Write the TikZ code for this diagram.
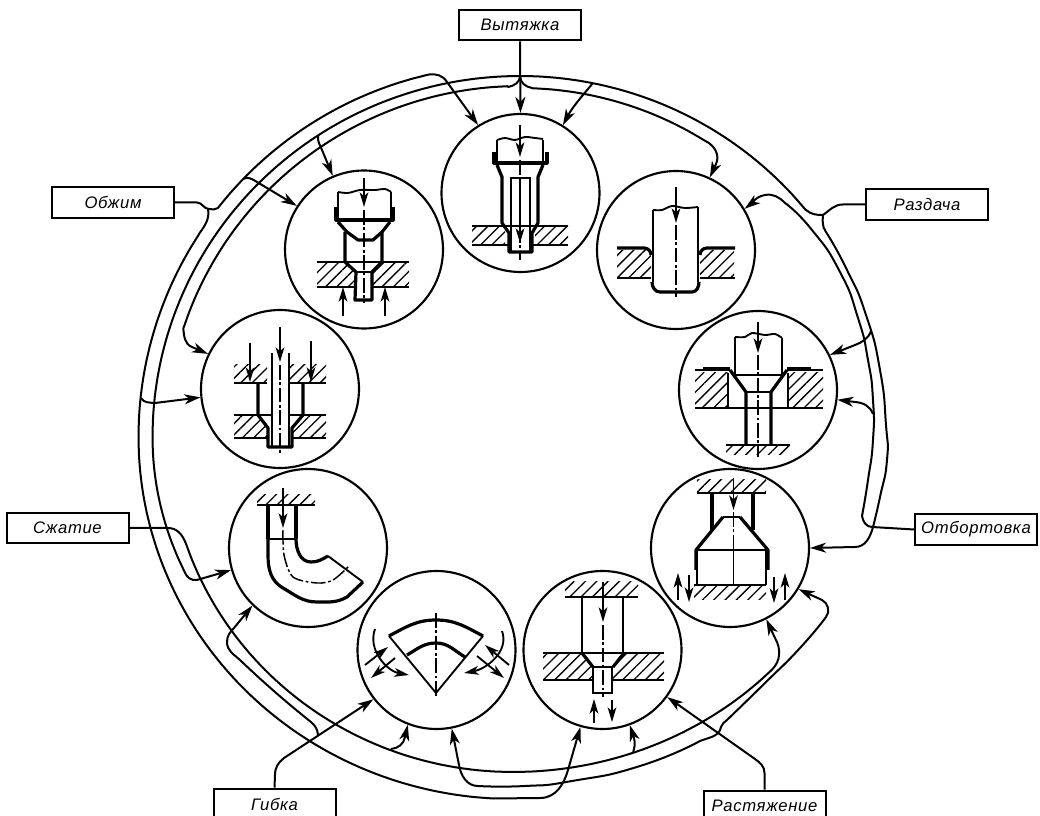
\documentclass[tikz,border=0pt]{standalone}
\usepackage{fontspec}
\setmainfont{Liberation Sans}[LetterSpace=4]
\usetikzlibrary{arrows.meta,patterns.meta}

\begin{document}
\begin{tikzpicture}[
x=0.75pt,y=-0.75pt,
>={Stealth[length=12pt,width=7.5pt,inset=3.5pt]},
labelbox/.style={
    draw,
    line width=1.5pt,
    minimum width=91.5pt,
    minimum height=23pt,
    inner sep=0pt,
    font=\itshape\fontsize{12.5}{14}\selectfont
},
stage/.style={
    draw,
    circle,
    line width=1.6pt,
    minimum size=118.5pt,
    inner sep=0pt
},
wire/.style={line width=1.5pt,line join=round},
part/.style={line width=1.4pt},
heavy/.style={line width=2.4pt,line join=round},
axis/.style={line width=1.1pt,dash pattern=on 11pt off 2pt on 2pt off 2pt},
push/.style={line width=1.4pt,->,>={Stealth[length=11pt,width=6.5pt,inset=3pt]}},
hatched/.style={pattern={Lines[angle=45,distance=6pt,line width=1pt]}}
]

\useasboundingbox (0,0) rectangle (1040,816);
\clip (0,0) rectangle (1040,816);

\node (vytyazhka) [labelbox] at (520,25) {Вытяжка};

\node (obzhim) [labelbox] at (113,202.5) {Обжим};

\node (razdacha) [labelbox] at (927,204.5) {Раздача};

\node (szhatie) [labelbox] at (67.5,528) {Сжатие};

\node (otbortovka) [labelbox] at (976,529.5) {Отбортовка};

\node (gibka) [labelbox] at (274.5,804) {Гибка};

\node (rastyazhenie) [labelbox] at (764.5,806) {Растяжение};

\node (ctop) [stage] at (520.5,193) {};

\node (cupleft) [stage] at (364,249.5) {};

\node (cupright) [stage] at (676,250) {};

\node (cleft) [stage] at (280,389) {};

\node (cright) [stage] at (758,390) {};

\node (clowleft) [stage] at (308,548) {};

\node (clowright) [stage] at (730,548) {};

\node (cbotleft) [stage] at (436.5,650) {};

\node (cbotright) [stage] at (602.5,650) {};

\draw[wire,->] (vytyazhka.south) -- (ctop.90);

\draw[wire,->] (obzhim.east) -- (197,202.5) to[out=0,in=180] (209,209) to[out=0,in=225] (218,208)
  -- plot[smooth,domain=218:257,samples=14] ({513+374.5*cos(\x)},{437+372*sin(\x)})
  to[out=8,in=122] (447,82) -- (ctop.122);

\draw[wire,->] (243,179) to[out=30,in=148] (257,182) -- (cupleft.147);

\draw[wire,->] (208,209) to[out=-80,in=55] (199,234)
  -- plot[smooth,domain=213:180,samples=12] ({513+374.5*cos(\x)},{437+372*sin(\x)})
  -- plot[smooth,domain=180:93,samples=30] ({513+374.5*cos(\x)},{437+362*sin(\x)})
  -- (540,798) to[out=0,in=-106] (568,770) -- (cbotright.-106);

\draw[wire,->] (141,398) to[out=-60,in=175] (155,403) -- (cleft.186);

\draw[wire,->] (razdacha.west) -- (843,204.5) to[out=180,in=35] (823,215) to[out=180,in=-40] (806,210)
  -- plot[smooth,domain=321:180,samples=45] ({520+367.5*cos(\x)},{437+361*sin(\x)})
  -- plot[smooth,domain=180:156,samples=9] ({520+367.5*cos(\x)},{437+330*sin(\x)})
  to[out=-70,in=190] (197,580) -- (clowleft.196);

\draw[wire,->] (318,136) to[out=-95,in=112] (322,150) -- (cupleft.113);

\draw[wire,->] (593,83) to[out=-130,in=62] (ctop.58);

\draw[wire,->] (520,76) to[out=-90,in=10] (508,87)
  -- plot[smooth,domain=268:198,samples=24] ({520+354*cos(\x)},{437+351*sin(\x)})
  to[out=-85,in=158] (192,347) -- (cleft.154);

\draw[wire,->] (520,76) to[out=-90,in=170] (532,88)
  -- plot[smooth,domain=272:302,samples=10] ({520+350*cos(\x)},{437+349*sin(\x)})
  to[out=-25,in=65] (716,164) -- (cupright.65);

\draw[wire,->] (872,527) to[out=180,in=-80] (862,516)
  -- plot[smooth,tension=1] coordinates {(862,516) (868,480) (873,440) (873,400) (868,360) (858,318) (840,272) (812,230) (785,203)}
  to[out=135,in=10] (765,195) to[out=190,in=37] (cupright.31);

\draw[wire,->] (823,215) to[out=-95,in=125] (826,232)
  -- plot[smooth,tension=1] coordinates {(826,232) (847,270) (866,315) (880,370) (886,425) (887,460) (880,497) (873,527)}
  to[out=-105,in=0] (855,547) -- (clowright.0);

\draw[wire,->] (871,331) to[out=-110,in=22] (855,345) -- (cright.26);

\draw[wire,->] (873,414) to[out=110,in=-5] (855,402) -- (cright.-7);

\draw[wire] (otbortovka.west) -- (872,527);

\draw[wire,->] (szhatie.east) -- (168,528) to[out=0,in=112] (185.7,543)
  -- plot[smooth,domain=161.6:90,samples=24] ({513+345*cos(\x)},{437+335*sin(\x)})
  -- plot[smooth,domain=90:44,samples=16] ({513+360*cos(\x)},{437+335*sin(\x)})
  to[out=45,in=-60] (775,638) -- (clowright.-63);

\draw[wire,->] (391,749) to[out=5,in=-100] (405,737) -- (cbotleft.-111);

\draw[wire,->] (633,753) to[out=75,in=-75] (634,738) -- (cbotright.-70);

\draw[wire,->] (gibka.north) -- (275,775) to[out=90,in=218] (284,758) -- (cbotleft.218);

\draw[wire,->] (318,735) to[out=95,in=-40] (311,722)
  -- plot[smooth,tension=1] coordinates {(311,722) (275,692) (240,660)}
  to[out=138,in=-90] (227,642) to[out=90,in=226] (234,628) -- (clowleft.226);

\draw[wire,->] (rastyazhenie.north) -- (764.5,773) to[out=90,in=-36] (755,759) -- (cbotright.-36);

\draw[wire,<->] (cbotleft.-79) -- (459,765) to[out=-80,in=180] (478,786)
  -- plot[smooth,tension=1] coordinates {(478,786) (525,786) (572,781) (640,766) (700,741)}
  to[out=22,in=-100] (721,727) to[out=80,in=225] (727,720)
  -- plot[smooth,tension=1] coordinates {(727,720) (765,683) (800,648) (826,617)}
  to[out=50,in=-25] (822,600) -- (clowright.-31);

\path[hatched] (472,226) rectangle (505,245);
\path[hatched] (535,226) rectangle (568,245);
\draw[part] (472,226) -- (568,226);
\draw[part] (472,245) -- (509,245);
\draw[part] (532,245) -- (568,245);
\draw[part] plot[smooth] coordinates {(497,140) (505,138) (515,140) (525,137) (535,138) (543,139)};
\draw[part] (497,140) -- (497,163);
\draw[part] (543,140) -- (543,163);
\draw[heavy] (494,152) -- (494,163) -- (547,163) -- (547,152);
\draw[heavy] (497,165) -- (502,177) -- (502,223) -- (509,233) -- (509,252) -- (532,252) -- (532,233) -- (538,223) -- (538,177) -- (543,165);
\draw[part] (511,252) -- (511,178) -- (530,178) -- (530,252);
\draw[axis] (520,160) -- (520,260);
\draw[push] (520,125) -- (520,157);
\draw[push] (520,178) -- (520,243);

\path[hatched] (317,262) -- (347,262) -- (356,272) -- (355,287) -- (317,287) -- cycle;
\path[hatched] (409,262) -- (380,262) -- (372,272) -- (372,287) -- (409,287) -- cycle;
\draw[part] (317,262) -- (409,262);
\draw[part] (317,287) -- (355,287);
\draw[part] (372,287) -- (409,287);
\draw[part] (356,272) -- (372,272);
\draw[part] plot[smooth] coordinates {(338,192) (348,193) (360,190) (375,190) (385,189) (391,192)};
\draw[part] (338,192) -- (338,220);
\draw[part] (391,192) -- (391,220);
\draw[heavy] (336,207) -- (336,220) -- (393,220) -- (393,207);
\draw[heavy] (338,222) -- (347,232) -- (358,240) -- (373,240) -- (382,232) -- (390,222);
\draw[heavy] (345,232) -- (345,262) -- (356,272) -- (355,300) -- (372,300) -- (372,272) -- (382,262) -- (382,232);
\draw[axis] (364,210) -- (364,303);
\draw[push] (364,178) -- (364,207);
\draw[push] (343,316) -- (343,287);
\draw[push] (385,316) -- (385,287);

\path[hatched] (617,250) -- (647,250) -- (651,256) -- (651,278) -- (617,278) -- cycle;
\path[hatched] (734,250) -- (704,250) -- (700,256) -- (700,278) -- (734,278) -- cycle;
\draw[part] (617,278) -- (651,278);
\draw[part] (700,278) -- (735,278);
\draw[heavy] (617,248) -- (644,248) to[out=0,in=90] (651,255);
\draw[heavy] (735,248) -- (707,248) to[out=180,in=90] (700,255);
\draw[part] plot[smooth] coordinates {(653,210) (662,210) (672,206) (685,208) (698,207)};
\draw[part] (653,210) -- (653,282);
\draw[part] (698,207) -- (698,282);
\draw[heavy] (652,282) to[out=-90,in=180] (660,292) -- (692,292) to[out=0,in=-90] (699,282);
\draw[axis] (676,225) -- (676,297);
\draw[push] (676,187) -- (676,223);

\path[hatched] (695,373) rectangle (728,408);
\path[hatched] (788,373) rectangle (823,408);
\draw[part] (695,370) -- (730,370);
\draw[part] (787,370) -- (823,370);
\draw[heavy] (703,369) -- (730,369);
\draw[heavy] (787,369) -- (811,369);
\draw[part] (728,373) -- (728,408);
\draw[part] (788,373) -- (788,408);
\draw[part] (695,408) -- (823,408);
\draw[part] (726,445) -- (790,445);
\path[hatched] (726,446) rectangle (790,455);
\draw[part] plot[smooth] coordinates {(735,337) (745,337) (752,333) (765,335) (775,334) (782,338)};
\draw[part] (735,337) -- (735,375);
\draw[part] (782,338) -- (782,375);
\draw[part] (733,375) -- (785,375);
\draw[part] (746,392) -- (771,392);
\draw[heavy] (730,370) -- (746,392) -- (746,444);
\draw[heavy] (787,370) -- (771,392) -- (771,444);
\draw[axis] (758,355) -- (758,457);
\draw[push] (758,322) -- (758,353);

\path[hatched] (697,480) rectangle (766,493);
\path[hatched] (694,586) rectangle (766,600);
\draw[part] (697,493) -- (766,493);
\draw[part] (694,585) -- (766,585);
\draw[part] (697,550) -- (697,585);
\draw[part] (766,550) -- (766,585);
\draw[part] (696,550) -- (768,550);
\draw[part] (723,517) -- (740,517);
\draw[heavy] (712,493) -- (712,530);
\draw[heavy] (753,493) -- (753,530);
\draw[heavy] (696,570) -- (696,550) -- (723,517);
\draw[heavy] (768,570) -- (768,550) -- (740,517);
\draw[part] (733.5,550) -- (733.5,585);
\draw[axis] (733.5,512) -- (733.5,550);
\draw[push] (733.5,478) -- (733.5,510);
\draw[push] (678,600) -- (678,573);
\draw[push] (689,575) -- (689,602);
\draw[push] (774,577) -- (774,603);
\draw[push] (785,600) -- (785,573);

\path[hatched] (543,653) -- (582,653) -- (593,667) -- (593,680) -- (543,680) -- cycle;
\path[hatched] (664,653) -- (624,653) -- (613,667) -- (613,680) -- (664,680) -- cycle;
\path[hatched] (565,582) rectangle (638,597);
\draw[part] (565,597) -- (638,597);
\draw[part] (543,653) -- (664,653);
\draw[part] (543,680) -- (593,680);
\draw[part] (613,680) -- (664,680);
\draw[part] (582,597) -- (582,653);
\draw[part] (623,597) -- (623,653);
\draw[heavy] (582,653) -- (593,667);
\draw[heavy] (624,653) -- (613,667);
\draw[part] (593,667) -- (613,667);
\draw[part] (593,667) -- (593,693) -- (612,693) -- (612,667);
\draw[axis] (603,625) -- (603,697);
\draw[push] (603,582) -- (603,622);
\draw[push] (594,723) -- (594,699);
\draw[push] (612,700) -- (612,722);

\draw[heavy] (389,636) to[out=28,in=180] (436,620) to[out=0,in=152] (483,636);
\draw[heavy] (407,655) to[out=30,in=180] (436,643) to[out=0,in=150] (465,657);
\draw[part] (389,636) -- (436,693) -- (483,636);
\draw[axis] (436,613) -- (436,698);
\draw[push] (365,665) -- (388,647);
\draw[push] (395,658) -- (371,678);
\draw[push] (375,629) to[out=-110,in=170] (409,675);
\draw[push] (509,665) -- (485,645);
\draw[push] (477,656) -- (504,678);
\draw[push] (502,631) to[out=-70,in=10] (464,673);

\path[hatched] (257,495) rectangle (315,505);
\draw[part] (257,505) -- (315,505);
\draw[heavy] (268,505) -- (268,539);
\draw[heavy] (296,505) -- (296,539);
\draw[part] (268,539) -- (296,539);
\draw[heavy] (268,539) -- (268,555) to[out=-90,in=150] (283,588) to[out=-30,in=180] (317,602) to[out=0,in=-150] (347,597) -- (363,582);
\draw[heavy] (296,539) to[out=-90,in=180] (311,562) to[out=0,in=-150] (328,556);
\draw[part] (328,556) -- (363,582);
\draw[axis] plot[smooth] coordinates {(283,530) (284,555) (293,577) (317,583) (333,580) (348,567)};
\draw[push] (283,488) -- (283,528);

\path[hatched] (234,365) rectangle (267,383);
\path[hatched] (290,365) rectangle (326,383);
\path[hatched] (234,415) -- (258,415) -- (268,428) -- (268,438) -- (234,438) -- cycle;
\path[hatched] (326,415) -- (301,415) -- (292,428) -- (292,438) -- (326,438) -- cycle;
\draw[part] (234,383) -- (267,383);
\draw[part] (290,383) -- (326,383);
\draw[part] (234,415) -- (326,415);
\draw[part] (234,438) -- (268,438);
\draw[part] (292,438) -- (326,438);
\fill[white] (272,355) rectangle (289,447);
\draw[part] (272,353) -- (272,447);
\draw[part] (289,353) -- (289,447);
\draw[heavy] (258,383) -- (258,415) -- (268,428) -- (268,447) -- (292,447) -- (292,428) -- (303,415) -- (303,383);
\draw[axis] (280,365) -- (280,453);
\draw[push] (280,327) -- (280,362);
\draw[push] (250,343) -- (250,382);
\draw[push] (311,341) -- (311,382);

\end{tikzpicture}
\end{document}
